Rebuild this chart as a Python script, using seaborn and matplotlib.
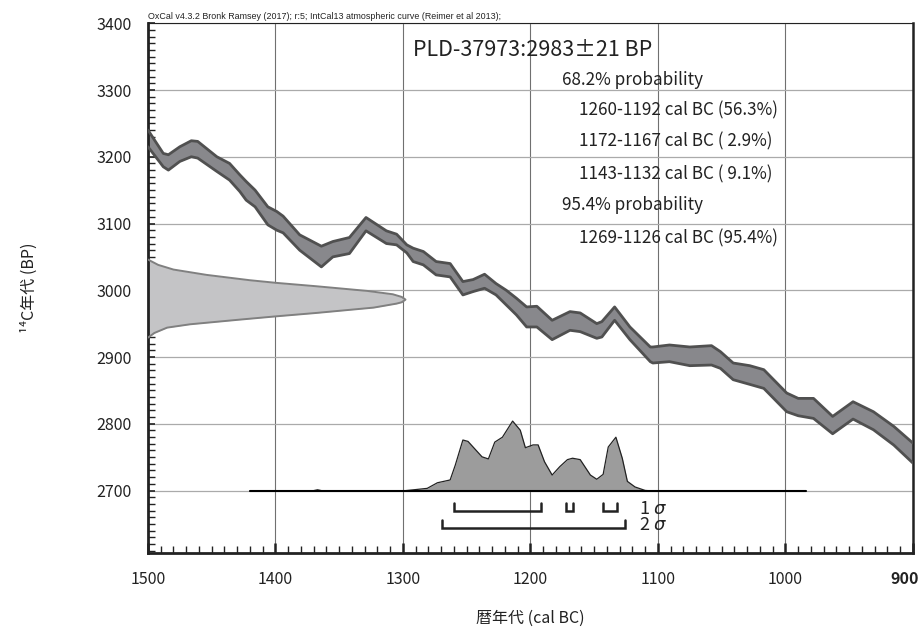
import matplotlib
matplotlib.use("Agg")
import matplotlib.pyplot as plt
import matplotlib.transforms as mtransforms
import seaborn as sns
from matplotlib.ticker import MultipleLocator

# OxCal calibration plot: PLD-37973

# calibration curve band (IntCal13)
curve_year = [1500, 1488, 1484, 1475, 1466, 1461, 1446, 1436, 1428, 1423, 1416, 1406,
              1399, 1394, 1381, 1364, 1355, 1342, 1329, 1313, 1305, 1297, 1292, 1284,
              1274, 1263, 1253, 1245, 1236, 1227, 1219, 1211, 1203, 1195, 1183, 1169,
              1161, 1148, 1144, 1134, 1122, 1106, 1104, 1091, 1075, 1058, 1051, 1041,
              1028, 1017, 999, 990, 978, 963, 947, 931, 915, 900]
curve_upper = [3240, 3205, 3203, 3215, 3224, 3223, 3200, 3190, 3173, 3163, 3150, 3125,
               3118, 3111, 3083, 3066, 3073, 3079, 3109, 3089, 3084, 3068, 3063, 3058,
               3043, 3040, 3013, 3016, 3024, 3010, 3000, 2988, 2975, 2976, 2955, 2968,
               2966, 2950, 2953, 2975, 2945, 2915, 2915, 2918, 2915, 2917, 2908, 2891,
               2887, 2881, 2846, 2838, 2838, 2811, 2833, 2818, 2796, 2771]
curve_lower = [3215, 3185, 3180, 3193, 3200, 3198, 3178, 3165, 3148, 3135, 3125, 3098,
               3090, 3086, 3060, 3035, 3050, 3055, 3089, 3070, 3068, 3056, 3043, 3038,
               3023, 3020, 2993, 2998, 3003, 2993, 2978, 2963, 2945, 2945, 2926, 2940,
               2938, 2928, 2930, 2955, 2926, 2893, 2891, 2893, 2887, 2888, 2883, 2866,
               2859, 2853, 2818, 2812, 2808, 2785, 2807, 2791, 2768, 2741]

# measured date 2983 +/- 21 BP, drawn along the y axis (length in years from 1500)
meas_bp = [3046, 3038, 3031, 3023, 3015, 3011, 3006, 2999, 2994, 2990, 2986,
           2982, 2980, 2974, 2966, 2961, 2956, 2949, 2944, 2936, 2929]
meas_len = [0, 8, 20, 46, 80, 101, 132, 172, 192, 199, 202,
            199, 195, 177, 132, 101, 72, 33, 15, 5, 0]

# calibrated probability distribution (relative height)
post_year = [1420, 1372, 1367, 1362, 1302, 1281, 1273, 1263, 1259, 1253, 1249, 1238,
             1233, 1228, 1222, 1214, 1208, 1204, 1198, 1194, 1189, 1183, 1177, 1171,
             1167, 1161, 1153, 1148, 1143, 1139, 1133, 1128, 1124, 1118, 1110, 1100, 984]
post_prob = [0, 0, 0.02, 0, 0, 0.04, 0.12, 0.16, 0.37, 0.73, 0.71, 0.49,
             0.46, 0.70, 0.77, 1.0, 0.87, 0.62, 0.66, 0.66, 0.42, 0.23, 0.35, 0.45,
             0.47, 0.45, 0.23, 0.17, 0.24, 0.63, 0.77, 0.47, 0.14, 0.06, 0.01, 0, 0]

sigma1_ranges = [(1260, 1192), (1172, 1167), (1143, 1132)]
sigma2_ranges = [(1269, 1126)]

title = "PLD-37973:2983±21 BP"
range_lines = ["68.2% probability",
               "1260-1192 cal BC (56.3%)",
               "1172-1167 cal BC ( 2.9%)",
               "1143-1132 cal BC ( 9.1%)",
               "95.4% probability",
               "1269-1126 cal BC (95.4%)"]
range_indent = [False, True, True, True, False, True]
header = "OxCal v4.3.2 Bronk Ramsey (2017); r:5; IntCal13 atmospheric curve (Reimer et al 2013);"

x_ticks = [1500, 1400, 1300, 1200, 1100, 1000, 900]
y_ticks = [2700, 2800, 2900, 3000, 3100, 3200, 3300, 3400]

sns.set_style("white")
plt.rcParams["font.family"] = ["Noto Sans CJK JP", "DejaVu Sans"]

fig = plt.figure(figsize=(9.22, 6.37), dpi=100)
ax = fig.add_axes([0.1605, 0.132, 0.8297, 0.8315])

# calibration curve
ax.fill_between(curve_year, curve_lower, curve_upper, color="#88888c", lw=0, zorder=2)
sns.lineplot(x=curve_year, y=curve_upper, ax=ax, color="#505050", lw=2.0,
             estimator=None, sort=False, zorder=3)
sns.lineplot(x=curve_year, y=curve_lower, ax=ax, color="#505050", lw=2.0,
             estimator=None, sort=False, zorder=3)

# measurement
meas_x = [1500 - v for v in meas_len]
ax.fill_betweenx(meas_bp, meas_x, 1500, color="#c4c4c6", lw=0, zorder=2)
sns.lineplot(x=meas_x, y=meas_bp, ax=ax, color="#808080", lw=1.4,
             estimator=None, sort=False, zorder=3)

# posterior
post_base = 2699
post_y = [post_base + p * 105 for p in post_prob]
ax.fill_between(post_year, post_base, post_y, color="#9c9c9c", lw=0, zorder=2)
sns.lineplot(x=post_year, y=post_y, ax=ax, color="#222222", lw=0.9,
             estimator=None, sort=False, zorder=3)
ax.plot([post_year[0], post_year[-1]], [post_base, post_base], color="black", lw=1.5, zorder=4)

# sigma brackets
for ranges, yb, lab in [(sigma1_ranges, 2669, "1 $\\sigma$"), (sigma2_ranges, 2644, "2 $\\sigma$")]:
    for a, b in ranges:
        ax.plot([a, a, b, b], [yb + 12, yb, yb, yb + 12], color="#222222", lw=1.8,
                solid_joinstyle="miter", zorder=4)
    ax.text(1115, yb + 4, lab, fontsize=13, va="center", ha="left", color="#222222")

# texts
ax.text(1292, 3360, title, fontsize=15.5, va="center", ha="left", color="#222222")
line_y = [3315, 3270, 3223, 3174, 3127, 3078]
for txt, yy, ind in zip(range_lines, line_y, range_indent):
    ax.text(1162 if ind else 1175, yy, txt, fontsize=12.3, va="center", ha="left", color="#222222")
ax.text(0, 1.004, header, transform=ax.transAxes, fontsize=6.4, va="bottom", ha="left",
        family=["Liberation Sans", "DejaVu Sans"], color="#222222")

# axes
ax.set_xlim(1500, 900)
ax.set_ylim(2606.5, 3400)
ax.set_xticks(x_ticks)
ax.set_xticklabels([str(v) for v in x_ticks])
ax.set_yticks(y_ticks)
ax.set_yticklabels([str(v) for v in y_ticks])
ax.xaxis.set_minor_locator(MultipleLocator(10))
ax.yaxis.set_minor_locator(MultipleLocator(10))
ax.xaxis.grid(True, which="major", color="#707070", lw=0.8, zorder=0)
ax.yaxis.grid(True, which="major", color="#aaaaaa", lw=0.9, zorder=0)
ax.set_axisbelow(True)

ax.tick_params(axis="both", which="both", direction="in", colors="#222222",
               labelsize=11.5, top=False, right=False, left=True, bottom=True)
ax.tick_params(axis="y", which="major", length=5, width=1.2, pad=12)
ax.tick_params(axis="y", which="minor", length=5, width=1.0)
ax.tick_params(axis="x", which="major", length=7, width=1.8, pad=13)
ax.tick_params(axis="x", which="minor", length=5, width=1.0)

# last label sits against the right edge
last = ax.get_xticklabels()[-1]
last.set_fontweight("bold")
last.set_horizontalalignment("right")
last.set_transform(last.get_transform() + mtransforms.ScaledTranslation(6 / 100, 0, fig.dpi_scale_trans))

for side, w in [("left", 2.0), ("bottom", 2.0), ("right", 1.8), ("top", 0.8)]:
    ax.spines[side].set_visible(True)
    ax.spines[side].set_linewidth(w)
    ax.spines[side].set_color("#222222")

ax.set_xlabel("暦年代 (cal BC)", fontsize=11.5, labelpad=16, color="#222222")
ax.set_ylabel("¹⁴C年代 (BP)", fontsize=11.5, labelpad=42, color="#222222")

fig.savefig("out.png", dpi=100)
